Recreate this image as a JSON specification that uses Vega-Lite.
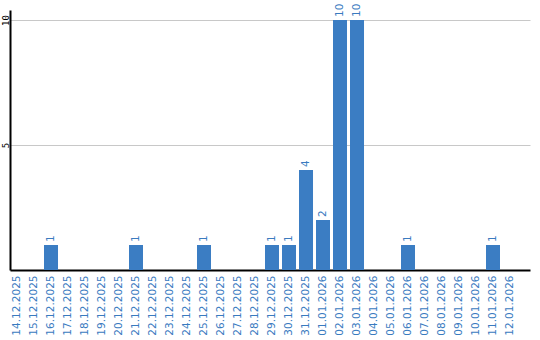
{
  "$schema": "https://vega.github.io/schema/vega-lite/v6.json",
  "autosize": "none",
  "width": 520,
  "height": 260,
  "padding": {"left": 10, "top": 10, "right": 10, "bottom": 70},
  "background": "white",
  "data": {"values": [
    {"date": "16.12.2025", "count": 1},
    {"date": "21.12.2025", "count": 1},
    {"date": "25.12.2025", "count": 1},
    {"date": "29.12.2025", "count": 1},
    {"date": "30.12.2025", "count": 1},
    {"date": "31.12.2025", "count": 4},
    {"date": "01.01.2026", "count": 2},
    {"date": "02.01.2026", "count": 10},
    {"date": "03.01.2026", "count": 10},
    {"date": "06.01.2026", "count": 1},
    {"date": "11.01.2026", "count": 1}
  ]},
  "encoding": {
    "x": {
      "field": "date", "type": "nominal", "sort": null,
      "scale": {
        "domain": ["14.12.2025","15.12.2025","16.12.2025","17.12.2025","18.12.2025","19.12.2025","20.12.2025","21.12.2025","22.12.2025","23.12.2025","24.12.2025","25.12.2025","26.12.2025","27.12.2025","28.12.2025","29.12.2025","30.12.2025","31.12.2025","01.01.2026","02.01.2026","03.01.2026","04.01.2026","05.01.2026","06.01.2026","07.01.2026","08.01.2026","09.01.2026","10.01.2026","11.01.2026","12.01.2026"],
        "paddingInner": 0.176, "paddingOuter": 0.382, "align": 0
      },
      "axis": {
        "title": null, "labelAngle": -90, "labelAlign": "right", "labelBaseline": "middle",
        "labelColor": "#3a7bbf", "labelFont": "DejaVu Sans", "labelFontSize": 10.5,
        "labelPadding": 5, "ticks": false, "domainColor": "#000000", "domainWidth": 2,
        "grid": false, "labelOverlap": false
      }
    },
    "y": {
      "field": "count", "type": "quantitative",
      "scale": {"domain": [0, 10.4], "nice": false},
      "axis": {
        "title": null, "values": [5, 10], "grid": true, "gridColor": "#c8c8c8", "gridWidth": 1,
        "ticks": false, "domainColor": "#000000", "domainWidth": 2,
        "labelAngle": -90, "labelAlign": "center", "labelBaseline": "bottom",
        "labelFont": "DejaVu Sans Mono", "labelFontSize": 9, "labelColor": "#000000", "labelPadding": 0
      }
    }
  },
  "layer": [
    {"mark": {"type": "bar", "color": "#3b7dc3"}},
    {"mark": {"type": "text", "angle": -90, "align": "left", "baseline": "middle", "dx": 3,
              "color": "#3a7bbf", "font": "DejaVu Sans", "fontSize": 10.5},
     "encoding": {"text": {"field": "count", "type": "quantitative"}}}
  ],
  "config": {"view": {"stroke": null}}
}
